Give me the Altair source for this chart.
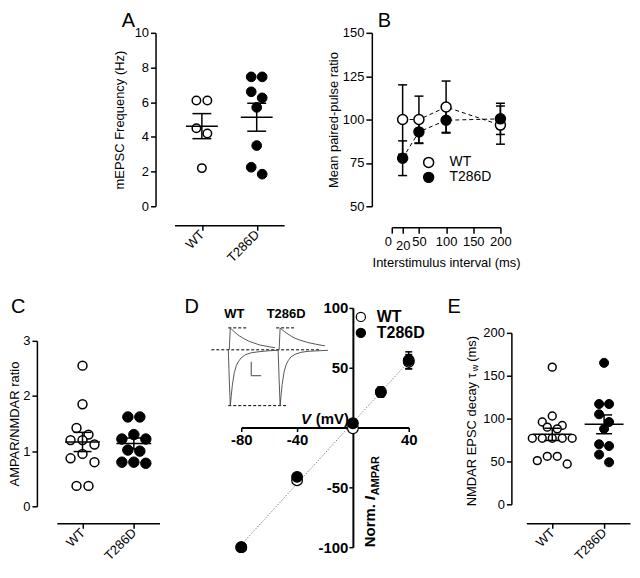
import altair as alt
import pandas as pd
import numpy as np

FONT = "Liberation Sans"

# ---------------- data ----------------
# A: mEPSC frequency (Hz)
a_wt = [6.1, 6.1, 4.5, 4.2, 2.2]
a_t286d = [7.46, 7.46, 6.6, 6.25, 5.7, 3.5, 2.25, 1.85]

# B: paired-pulse ratio (%)
b_isi = [20, 50, 100, 200]
b_wt_mean = [100.0, 100.0, 107.2, 96.8]
b_wt_sem = [20.0, 13.5, 15.0, 11.0]
b_t286d_mean = [77.7, 92.9, 99.6, 100.4]
b_t286d_sem = [10.0, 6.7, 7.0, 9.0]

# C: AMPAR/NMDAR ratio
c_wt = [2.55, 1.85, 1.42, 1.3, 1.2, 1.2, 1.12, 0.95, 0.87, 0.8, 0.37, 0.37]
c_t286d = [1.62, 1.62, 1.3, 1.22, 1.22, 1.02, 1.0, 0.8, 0.8, 0.78]

# D: normalised AMPAR I-V
d_v = [-80, -40, 0, 20, 40]
d_wt_mean = [-100.0, -44.0, -0.6, 29.7, 55.0]
d_wt_sem = [0.0, 2.0, 1.0, 4.0, 6.0]
d_t286d_mean = [-100.0, -41.2, 3.6, 29.7, 56.3]
d_t286d_sem = [0.0, 2.0, 1.0, 4.0, 7.0]

# D inset: example traces (time, current)
ampa_t = [0, 1, 2, 3, 4, 6, 8, 10, 13, 17, 23, 30, 40, 50]
ampa_wt = [0, -30, -56, -46, -36, -23, -16, -12, -8, -5, -3, -2, -1, -0.5]
ampa_t286d = [0, -30, -56, -45, -35, -22, -15, -11, -7, -4.5, -2.5, -1.5, -1, -0.5]
nmda_t = [0, 1, 2, 5, 10, 15, 20, 30, 40, 46]
nmda_wt = [0, 22, 21, 18, 14, 11, 8.5, 5, 3, 2]
nmda_t286d = [0, 22, 21, 18.5, 15, 12, 10, 7, 5, 4]

# E: NMDAR EPSC weighted decay (ms)
e_wt = [160, 103, 96, 92, 90, 88, 77, 77, 77, 77, 77, 56, 56, 51, 47]
e_t286d = [165, 117, 117, 105, 96, 88, 70, 68, 58, 49]

ONE = pd.DataFrame({"k": [0]})


def swarm(vals, ppu, diam):
    """spread points that overlap vertically into symmetric rows (px offsets)"""
    order = sorted(range(len(vals)), key=lambda k: -vals[k])
    rows = []
    for k in order:
        if rows and (vals[rows[-1][0]] - vals[k]) * ppu < diam * 0.95:
            rows[-1].append(k)
        else:
            rows.append([k])
    off = [0.0] * len(vals)
    for row in rows:
        n = len(row)
        slots = sorted([j - (n - 1) / 2 for j in range(n)], key=lambda s: (abs(s), s))
        for k, s in zip(row, slots):
            off[k] = s * diam
    return off


def box(x1, x2, y1, y2):
    return alt.Chart(ONE).mark_rect(opacity=0).encode(
        x=alt.value(x1), x2=alt.value(x2), y=alt.value(y1), y2=alt.value(y2))


def spacer(w, h):
    return box(0, w, 0, h).properties(width=w, height=h)


def letter(t, x, y):
    return alt.Chart(ONE).mark_text(text=t, font=FONT, fontSize=20, align="left",
                                    baseline="top", color="black").encode(
        x=alt.value(x), y=alt.value(y))


def dot_panel(wt, mut, W, H, ydom, yticks, ytitle, yoff, xoff, diam, s_open, s_fill,
              mean_w, cap_w, let, lab_size=13, title_pad=8, extra=(), pre=()):
    ppu_y = H / (ydom[1] - ydom[0])
    ppu_x = W / 2.0
    pts, st = [], []
    for g, (name, vals) in enumerate([("WT", wt), ("T286D", mut)]):
        for v, o in zip(vals, swarm(vals, ppu_y, diam)):
            pts.append({"geno": name, "x": g + 1 + o / ppu_x, "y": v})
        a = np.array(vals, dtype=float)
        m = a.mean()
        se = a.std(ddof=1) / np.sqrt(len(a))
        st.append({"geno": name, "x": g + 1, "y": m, "lo": m - se, "hi": m + se})
    pts = pd.DataFrame(pts)
    st = pd.DataFrame(st)
    xs = alt.Scale(domain=[0.5, 2.5], nice=False, zero=False)
    ys = alt.Scale(domain=ydom, nice=False, zero=False)
    xax = alt.Axis(values=[1, 2], labelExpr="datum.value == 1 ? 'WT' : 'T286D'",
                   labelAngle=315, labelAlign="right", labelBaseline="middle",
                   offset=xoff, tickSize=5, labelFontSize=lab_size, labelPadding=2,
                   title=None, labelFlush=False, labelOverlap=False)
    yax = alt.Axis(values=yticks, offset=yoff, tickSize=5, labelFontSize=lab_size,
                   labelPadding=2, title=ytitle, titleFontSize=13, titlePadding=title_pad,
                   labelOverlap=False)

    def X(f):
        return alt.X(f, type="quantitative", scale=xs, axis=xax)

    def Y(f):
        return alt.Y(f, type="quantitative", scale=ys, axis=yax)

    open_pts = alt.Chart(pts[pts.geno == "WT"]).mark_point(
        shape="circle", filled=True, fill="white", stroke="black", strokeWidth=1.5,
        size=s_open, opacity=1).encode(x=X("x"), y=Y("y"))
    fill_pts = alt.Chart(pts[pts.geno == "T286D"]).mark_point(
        shape="circle", filled=True, fill="black", stroke="black", strokeWidth=1,
        size=s_fill, opacity=1).encode(x=X("x"), y=Y("y"))
    vert = alt.Chart(st).mark_rule(strokeWidth=1.5, color="black").encode(
        x=X("x"), y=Y("lo"), y2=alt.Y2("hi"))
    mean = alt.Chart(st).mark_tick(orient="horizontal", size=mean_w, thickness=1.5,
                                   color="black", opacity=1).encode(x=X("x"), y=Y("y"))
    caps = alt.Chart(st).transform_fold(["lo", "hi"], as_=["k", "v"]).mark_tick(
        orient="horizontal", size=cap_w, thickness=1.5, color="black", opacity=1).encode(
        x=X("x"), y=Y("v"))
    return alt.layer(*pre, letter(*let), open_pts, fill_pts, vert, mean, caps,
                     *[e(Y) for e in extra]).properties(width=W, height=H)


# ---------------- panel A ----------------
A = dot_panel(a_wt, a_t286d, 110, 174, [0, 10], [0, 2, 4, 6, 8, 10],
              "mEPSC Frequency (Hz)", 19, 19, 11, 72, 95, 32, 19, ("A", -53, -22),
              pre=(box(-165, 0, -24, 0),))

# ---------------- panel B ----------------
brows = []
for name, ms, ss in [("WT", b_wt_mean, b_wt_sem), ("T286D", b_t286d_mean, b_t286d_sem)]:
    for x, m, s in zip(b_isi, ms, ss):
        brows.append({"geno": name, "isi": x, "m": m, "lo": m - s, "hi": m + s})
bdf = pd.DataFrame(brows)
bxs = alt.Scale(domain=[0, 200], nice=False, zero=False)
bys = alt.Scale(domain=[50, 150], nice=False, zero=False)
bxax = alt.Axis(values=[0, 20, 50, 100, 150, 200], offset=21, tickSize=6, labelFontSize=13,
                labelPadding={"condition": {"test": "datum.value === 20", "value": 6}, "value": 2},
                labelOffset={"condition": {"test": "datum.value === 0", "value": -4}, "value": 0},
                labelFlush=False, labelOverlap=False, title="Interstimulus interval (ms)",
                titleFontSize=13, titlePadding=4)
byax = alt.Axis(values=[50, 75, 100, 125, 150], offset=20, tickSize=6, labelFontSize=13,
                labelPadding=2, title="Mean paired-pulse ratio", titleFontSize=13, titlePadding=2)


def BX(f):
    return alt.X(f, type="quantitative", scale=bxs, axis=bxax)


def BY(f):
    return alt.Y(f, type="quantitative", scale=bys, axis=byax)


b_line = alt.Chart(bdf).mark_line(strokeDash=[4, 3], strokeWidth=1, color="black").encode(
    x=BX("isi"), y=BY("m"), detail="geno:N")
b_err = alt.Chart(bdf).mark_rule(strokeWidth=1.5, color="black").encode(
    x=BX("isi"), y=BY("lo"), y2=alt.Y2("hi"))
b_caps = alt.Chart(bdf).transform_fold(["lo", "hi"], as_=["k", "v"]).mark_tick(
    orient="horizontal", size=9, thickness=1.5, color="black", opacity=1).encode(
    x=BX("isi"), y=BY("v"))
# legend positions are relative to the row that holds the panel
b_pts = alt.Chart(bdf).mark_point(shape="circle", filled=True, stroke="black",
                                  strokeWidth=1.5, size=100, opacity=1).encode(
    x=BX("isi"), y=BY("m"),
    fill=alt.Fill("geno:N", scale=alt.Scale(domain=["WT", "T286D"], range=["white", "black"]),
                  legend=alt.Legend(title=None, orient="none", legendX=366, legendY=123,
                                    labelFontSize=14, labelFont=FONT, symbolSize=100,
                                    symbolType="circle", symbolStrokeColor="black",
                                    symbolStrokeWidth=1.5, padding=0, rowPadding=-3,
                                    labelOffset=14)))
B = alt.layer(letter("B", -14, -22), b_line, b_err, b_caps, b_pts).properties(
    width=109, height=174)

# ---------------- panel C ----------------
C = dot_panel(c_wt, c_t286d, 103, 166, [0, 3], [0, 1, 2, 3], "AMPAR/NMDAR ratio",
              20, 17, 12, 80, 110, 35, 18, ("C", -46, -44), title_pad=1)

# ---------------- panel D ----------------
drows = []
for name, ms, ss in [("WT", d_wt_mean, d_wt_sem), ("T286D", d_t286d_mean, d_t286d_sem)]:
    for x, m, s in zip(d_v, ms, ss):
        drows.append({"geno": name, "V": x, "I": m, "lo": m - s, "hi": m + s})
ddf = pd.DataFrame(drows)
dxs = alt.Scale(domain=[-80, 40], nice=False, zero=False)
dys = alt.Scale(domain=[-100, 100], nice=False, zero=False)
dxax = alt.Axis(values=[-80, -40, 40], labelExpr="'' + datum.value", offset=-120, tickSize=4,
                labelFontSize=15, labelFontWeight="bold", labelPadding=1, domainWidth=2,
                title=None, labelFlush=False, labelOverlap=False)
dyax = alt.Axis(values=[-100, -50, 50, 100], labelExpr="'' + datum.value", offset=-112,
                tickSize=4, labelFontSize=15, labelFontWeight="bold", labelPadding=1,
                domainWidth=2, title=None, labelOverlap=False)


def DX(f):
    return alt.X(f, type="quantitative", scale=dxs, axis=dxax)


def DY(f):
    return alt.Y(f, type="quantitative", scale=dys, axis=dyax)


d_fit = alt.Chart(ddf).transform_regression("V", "I").mark_line(
    color="#888888", strokeWidth=1, strokeDash=[1.5, 1.5]).encode(x=DX("V"), y=DY("I"))
d_err = alt.Chart(ddf).mark_rule(strokeWidth=1.5, color="black").encode(
    x=DX("V"), y=DY("lo"), y2=alt.Y2("hi"))
d_caps = alt.Chart(ddf).transform_fold(["lo", "hi"], as_=["k", "v"]).mark_tick(
    orient="horizontal", size=7, thickness=1.5, color="black", opacity=1).encode(
    x=DX("V"), y=DY("v"))
d_pts = alt.Chart(ddf).mark_point(shape="circle", filled=True, stroke="black",
                                  strokeWidth=1.2, size=115, opacity=1).encode(
    x=DX("V"), y=DY("I"),
    fill=alt.Fill("geno:N", scale=alt.Scale(domain=["WT", "T286D"], range=["white", "black"]),
                  legend=alt.Legend(title=None, orient="none", legendX=297, legendY=1,
                                    labelFontSize=16, labelFontWeight="bold", labelFont=FONT,
                                    symbolSize=85, symbolType="circle",
                                    symbolStrokeColor="black", symbolStrokeWidth=1.2,
                                    padding=0, rowPadding=-1, labelOffset=8)))


def dtext(t, dx, dy, size, **kw):
    return alt.Chart(ONE).mark_text(text=t, font=FONT, fontSize=size, dx=dx, dy=dy,
                                    color="black", **kw)


v_lab1 = dtext(" (mV)", -4, -4, 15, align="right", baseline="alphabetic",
               fontWeight="bold").encode(x=alt.datum(0), y=alt.datum(0))
v_lab2 = dtext("V", -42, -4, 15, align="right", baseline="alphabetic",
               fontWeight="bold", fontStyle="italic").encode(x=alt.datum(0), y=alt.datum(0))
n_lab1 = dtext("Norm. ", 0, 22, 15, align="left", baseline="alphabetic", angle=270,
               fontWeight="bold").encode(x=alt.datum(0), y=alt.datum(-100))
n_lab2 = dtext("I", 47, 22, 15, align="left", baseline="alphabetic", angle=270,
               fontWeight="bold", fontStyle="italic").encode(x=alt.datum(0), y=alt.datum(-100))
n_lab3 = dtext("AMPAR", 52, 26, 11, align="left", baseline="alphabetic", angle=270,
               fontWeight="bold").encode(x=alt.datum(0), y=alt.datum(-100))

d_main = alt.layer(letter("D", -57, -11), d_fit, d_err, d_caps,
                   d_pts, v_lab1, v_lab2, n_lab1, n_lab2, n_lab3)

# inset traces (own hidden scales)
SWEEP_GAP = 50
trows = []
for gi, (name, am, nm) in enumerate([("WT", ampa_wt, nmda_wt), ("T286D", ampa_t286d, nmda_t286d)]):
    for t, i in zip(ampa_t, am):
        trows.append({"tr": name + "-70", "t": t + gi * SWEEP_GAP, "i": i})
    for t, i in zip(nmda_t, nm):
        trows.append({"tr": name + "+40", "t": t + 1 + gi * SWEEP_GAP, "i": i})
tdf = pd.DataFrame(trows)
peak_up = max(nmda_wt)
peak_dn = min(ampa_wt)
guides = pd.DataFrame({"t1": [-17, 0, SWEEP_GAP - 2, 0],
                       "t2": [92, 20, SWEEP_GAP + 18, 58],
                       "i": [0, peak_up, peak_up, peak_dn]})
bar = pd.DataFrame({"t1": [23, 23], "t2": [23, 33], "i1": [-12, -26], "i2": [-26, -26]})
tlab = pd.DataFrame({"t": [6, SWEEP_GAP + 8], "i": [36, 36], "lab": ["WT", "T286D"]})
ixs = alt.Scale(domain=[13, 181], nice=False, zero=False)
iys = alt.Scale(domain=[-198, 42], nice=False, zero=False)


def IX(f):
    return alt.X(f, type="quantitative", scale=ixs, axis=None)


def IY(f):
    return alt.Y(f, type="quantitative", scale=iys, axis=None)


i_tr = alt.Chart(tdf).mark_line(color="#444444", strokeWidth=0.9).encode(
    x=IX("t"), y=IY("i"), detail="tr:N")
i_gd = alt.Chart(guides).mark_rule(color="black", strokeWidth=1, strokeDash=[3, 2]).encode(
    x=IX("t1"), x2=alt.X2("t2"), y=IY("i"))
i_bar = alt.Chart(bar).mark_rule(color="#444444", strokeWidth=1).encode(
    x=IX("t1"), x2=alt.X2("t2"), y=IY("i1"), y2=alt.Y2("i2"))
i_lab = alt.Chart(tlab).mark_text(font=FONT, fontSize=13, fontWeight="bold",
                                  color="black").encode(x=IX("t"), y=IY("i"), text="lab:N")
d_inset = alt.layer(i_gd, i_tr, i_bar, i_lab)

D = alt.layer(d_main, d_inset).resolve_scale(x="independent", y="independent").properties(
    width=168, height=240)


# ---------------- panel E ----------------
def e_title(Y):
    def t(txt, dx, dy, size, **kw):
        return alt.Chart(ONE).mark_text(text=txt, font=FONT, fontSize=size, dx=dx, dy=dy,
                                        angle=270, align="left", baseline="alphabetic",
                                        color="black", **kw).encode(
            x=alt.value(0), y=alt.datum(0))
    return alt.layer(t("NMDAR EPSC decay τ", -2, -51, 13),
                     t("w", 133.5, -48, 9),
                     t(" (ms)", 143, -51, 13))


E = dot_panel(e_wt, e_t286d, 104, 172, [0, 200], [0, 50, 100, 150, 200], None,
              15, 19, 10, 62, 82, 39, 16, ("E", -79, -36),
              extra=(e_title,), pre=(box(0, 106, 0, 237),))

# ---------------- layout (plot areas placed by flush bounds) ----------------
# nested concat groups count as zero size in flush layout, so their
# extent is folded into the spacing of the enclosing concat
row1 = alt.hconcat(spacer(10, 1), A, B, spacing=108, bounds="flush")
col_c = alt.vconcat(spacer(103, 1), C, spacing=32, bounds="flush")
col_e = alt.vconcat(spacer(104, 1), E, spacing=24, bounds="flush")
de = alt.hconcat(D, col_e, spacing=118, bounds="flush")
row2 = alt.hconcat(col_c, de, spacing=185, bounds="flush")

chart = alt.vconcat(row1, row2, spacing=276, bounds="flush").resolve_scale(
    fill="independent").resolve_legend(fill="independent").properties(
    padding=0).configure_view(stroke=None).configure_axis(
    labelFont=FONT, titleFont=FONT, titleFontWeight="normal", domainColor="black",
    tickColor="black", labelColor="black", titleColor="black", grid=False,
    domainWidth=1.5, tickWidth=1.5)

chart.save("out.html", embed_options={"renderer": "svg", "actions": False})
